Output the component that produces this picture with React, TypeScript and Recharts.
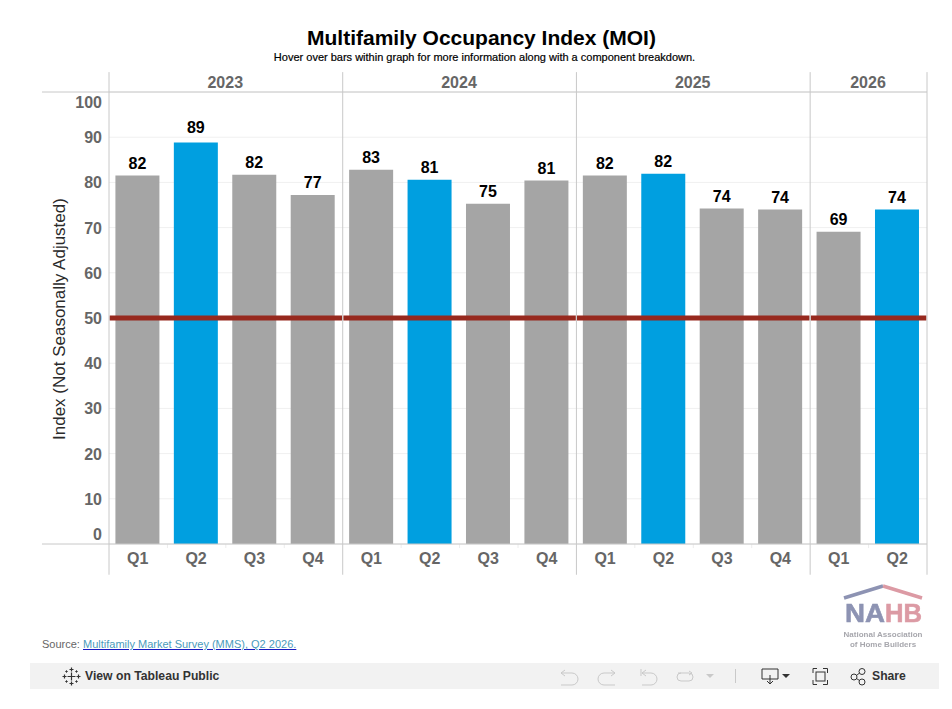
import {
  Bar,
  CartesianGrid,
  Cell,
  ComposedChart,
  LabelList,
  ReferenceLine,
  XAxis,
  YAxis,
} from "recharts";

const quarters = ["Q1", "Q2", "Q3", "Q4", "Q1", "Q2", "Q3", "Q4", "Q1", "Q2", "Q3", "Q4", "Q1", "Q2"];
const indexValues = [81.5, 88.8, 81.7, 77.2, 82.8, 80.6, 75.3, 80.4, 81.5, 81.9, 74.2, 74, 69.1, 74];
const shownLabels = [82, 89, 82, 77, 83, 81, 75, 81, 82, 82, 74, 74, 69, 74];
const years = ["2023", "2024", "2025", "2026"];
const yearStarts = [0, 4, 8, 12];
const yearEnds = [4, 8, 12, 14];
const yTicks = [0, 10, 20, 30, 40, 50, 60, 70, 80, 90, 100];

const chartData = quarters.map((quarter, i) => ({
  pos: i + 0.49,
  quarter,
  value: indexValues[i],
  label: shownLabels[i],
}));

const yearCenters = yearStarts.map((start, i) => (start + yearEnds[i]) / 2 - 0.01);
const quarterTicks = chartData.map((d) => d.pos);
const dividers = [0, 4, 8, 12, 14];
const boundaries = [1, 2, 3, 5, 6, 7, 9, 10, 11, 13];

const FONT = "Arial, 'Liberation Sans', sans-serif";
const GREY = "#a5a5a5";
const BLUE = "#009fe0";
const RULE = "#c8c8c8";

function ValueTick({ x, y, payload }: any) {
  const shift = payload.value === 100 ? 10 : payload.value === 0 ? -10 : 0;
  return (
    <text x={x + 1} y={y + shift} dy={6} textAnchor="end" fontFamily={FONT} fontSize={16} fontWeight={700} fill="#666666">
      {payload.value}
    </text>
  );
}

function BarValue({ x, y, width, value }: any) {
  // the tallest bar's label sits a little higher in the original
  const lift = value > 85 ? 10 : 7;
  return (
    <text x={x + width / 2} y={y - lift} textAnchor="middle" fontFamily={FONT} fontSize={16} fontWeight={700} fill="#000">
      {value}
    </text>
  );
}

function Plus({ cx, cy, r, w = 1.2 }: { cx: number; cy: number; r: number; w?: number }) {
  return <path d={`M${cx - r} ${cy}h${2 * r}M${cx} ${cy - r}v${2 * r}`} stroke="#333" strokeWidth={w} fill="none" />;
}

function Toolbar() {
  const stroke = { fill: "none", stroke: "#333", strokeWidth: 1 };
  const off = { fill: "none", stroke: "#c9c9c9", strokeWidth: 1 };
  return (
    <div style={{ position: "absolute", left: 30, top: 663, width: 909, height: 26, background: "#f2f2f2" }}>
      <svg width={909} height={26} style={{ position: "absolute", left: 0, top: 0 }}>
        <Plus cx={41.5} cy={13.5} r={4} />
        <Plus cx={41.5} cy={6.5} r={2} />
        <Plus cx={41.5} cy={20.5} r={2} />
        <Plus cx={34.5} cy={13.5} r={2} />
        <Plus cx={48.5} cy={13.5} r={2} />
        <Plus cx={36.5} cy={8.5} r={1.2} w={1} />
        <Plus cx={46.5} cy={8.5} r={1.2} w={1} />
        <Plus cx={36.5} cy={18.5} r={1.2} w={1} />
        <Plus cx={46.5} cy={18.5} r={1.2} w={1} />
        <path d="M535 7l-4 3 4 3M531 10h11a6 6 0 0 1 0 12h-11" {...off} />
        <path d="M581 7l4 3-4 3M585 10h-11a6 6 0 0 0 0 12h11" {...off} />
        <path d="M611 6v7M616 7l-4 3 4 3M612 10h9a6 6 0 0 1 0 12h-9" {...off} />
        <path d="M659 8l3 2-3 2M648 10h11a4 4 0 0 1 0 8h-8a4 4 0 0 1 0-8" {...off} />
        <path d="M676 11h8l-4 4z" fill="#c9c9c9" />
        <path d="M705.500 6v14" {...off} />
        <path d="M732 6h16v10h-16zM740 12v9M737 18l3 3 3-3" {...stroke} />
        <path d="M752 11h8l-4 4z" fill="#333" />
        <path d="M783 10V5.500h4M793 5.500h4.500V10M797.500 17v4.500h-4.500M787 21.500h-4V17" {...stroke} />
        <rect x={786} y={9} width={9} height={9} {...stroke} />
        <circle cx={824} cy={14} r={3} {...stroke} />
        <circle cx={832} cy={8.500} r={3} {...stroke} />
        <circle cx={832} cy={19} r={3} {...stroke} />
        <path d="M826.500 12.500l3-2.500M826.500 15.500l3 2" {...stroke} />
      </svg>
      <span style={{ position: "absolute", left: 55, top: 6, fontSize: 12.2, fontWeight: 700, color: "#333" }}>View on Tableau Public</span>
      <span style={{ position: "absolute", left: 842, top: 6, fontSize: 12.2, fontWeight: 700, color: "#333" }}>Share</span>
    </div>
  );
}

function Logo() {
  return (
    <svg width={96} height={70} style={{ position: "absolute", left: 836, top: 582, filter: "blur(0.5px)" }}>
      <path d="M8 16L47 4" stroke="#8d93b3" strokeWidth={3.500} fill="none" />
      <path d="M47 4L86 16" stroke="#dc9aa4" strokeWidth={3.500} fill="none" />
      <text x={9} y={40} fontFamily={FONT} fontSize={26} fontWeight={700} fill="#8d93b3" textLength={40} lengthAdjust="spacingAndGlyphs" stroke="#8d93b3" strokeWidth={0.6}>NA</text>
      <text x={49} y={40} fontFamily={FONT} fontSize={26} fontWeight={700} fill="#dc9aa4" textLength={37} lengthAdjust="spacingAndGlyphs" stroke="#dc9aa4" strokeWidth={0.6}>HB</text>
      <text x={47} y={55} textAnchor="middle" fontFamily={FONT} fontSize={8} fontWeight={700} fill="#a7a7ad">National Association</text>
      <text x={47} y={65} textAnchor="middle" fontFamily={FONT} fontSize={8} fontWeight={700} fill="#a7a7ad">of Home Builders</text>
    </svg>
  );
}

export default function App() {
  return (
    <div style={{ position: "absolute", left: 0, top: 0, width: 952, height: 709, background: "#fff", fontFamily: FONT, overflow: "hidden" }}>
      <div style={{ position: "absolute", left: 0, width: 963, top: 26, textAlign: "center", fontSize: 21, fontWeight: 700, color: "#000" }}>
        Multifamily Occupancy Index (MOI)
      </div>
      <div style={{ position: "absolute", left: 0, width: 969, top: 51, textAlign: "center", fontSize: 11, color: "#000", WebkitTextStroke: "0.2px #000" }}>
        Hover over bars within graph for more information along with a component breakdown.
      </div>

      <div style={{ position: "absolute", left: 0, top: 0 }}>
        <ComposedChart width={952} height={709} data={chartData} margin={{ top: 72, right: 25, bottom: 134, left: 49 }}>
          <CartesianGrid vertical={false} stroke="#f0f0f0" />
          <XAxis
            xAxisId="quarter"
            type="number"
            dataKey="pos"
            domain={[0, 14]}
            ticks={quarterTicks}
            interval={0}
            height={31}
            axisLine={false}
            tickLine={false}
            tickFormatter={(_, i) => quarters[i]}
            tick={{ fontFamily: FONT, fontSize: 16, fontWeight: 700, fill: "#666666" }}
            tickMargin={3}
          />
          <XAxis
            xAxisId="year"
            orientation="top"
            type="number"
            dataKey="pos"
            domain={[0, 14]}
            ticks={yearCenters}
            interval={0}
            height={20}
            axisLine={false}
            tickLine={false}
            tickFormatter={(_, i) => years[i]}
            tick={{ fontFamily: FONT, fontSize: 16, fontWeight: 700, fill: "#666666" }}
            tickMargin={-2}
          />
          <YAxis
            type="number"
            domain={[0, 100]}
            ticks={yTicks}
            interval={0}
            width={60}
            axisLine={false}
            tickLine={false}
            tick={<ValueTick />}
            label={{
              value: "Index (Not Seasonally Adjusted)",
              angle: -90,
              position: "insideLeft",
              dx: 5,
              dy: 122,
              style: { fontFamily: FONT, fontSize: 17, fill: "#2a2a2a" },
            }}
          />
          <Bar xAxisId="quarter" dataKey="value" barSize={44} isAnimationActive={false}>
            {chartData.map((d, i) => (
              <Cell key={i} fill={d.quarter === "Q2" ? BLUE : GREY} />
            ))}
            <LabelList dataKey="label" content={<BarValue />} />
          </Bar>
          {yearStarts.map((start, i) => (
            <ReferenceLine
              key={years[i]}
              xAxisId="quarter"
              ifOverflow="visible"
              segment={[{ x: start + 0.01, y: 50 }, { x: yearEnds[i] - 0.01, y: 50 }]}
              stroke="#97291e"
              strokeWidth={5}
            />
          ))}
          {dividers.map((d) => (
            <ReferenceLine
              key={d}
              xAxisId="quarter"
              ifOverflow="visible"
              segment={[{ x: d, y: -6.8 }, { x: d, y: 104.4 }]}
              stroke={RULE}
            />
          ))}
          {boundaries.map((d) => (
            <ReferenceLine
              key={d}
              xAxisId="quarter"
              ifOverflow="visible"
              segment={[{ x: d, y: 0 }, { x: d, y: -0.9 }]}
              stroke="#ececec"
            />
          ))}
          <ReferenceLine xAxisId="quarter" ifOverflow="visible" segment={[{ x: -1.147, y: 0 }, { x: 14, y: 0 }]} stroke={RULE} />
          <ReferenceLine xAxisId="quarter" ifOverflow="visible" segment={[{ x: -1.147, y: 100 }, { x: 14, y: 100 }]} stroke={RULE} />
        </ComposedChart>
      </div>

      <div style={{ position: "absolute", left: 42, top: 638, fontSize: 11, color: "#666" }}>
        Source:{" "}
        <span style={{ color: "#4a9bbb", textDecoration: "underline", textDecorationColor: "#1a1ac0" }}>
          Multifamily Market Survey (MMS), Q2 2026.
        </span>
      </div>
      <Logo />
      <Toolbar />
    </div>
  );
}
